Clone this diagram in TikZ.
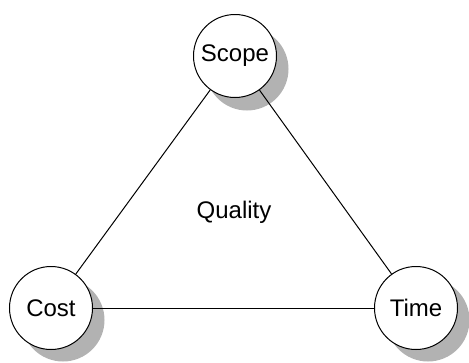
\documentclass[tikz,border=0pt]{standalone}
\usepackage{fontspec}
\setmainfont{Liberation Sans}
\begin{document}
\begin{tikzpicture}[x=1pt,y=-1pt,
  vtx/.style={circle,draw=black,fill=white,line width=1pt,minimum size=83pt,inner sep=0pt,font=\fontsize{24}{28}\selectfont},
  shd/.style={circle,fill=black!30,minimum size=83pt,inner sep=0pt,draw=none},
  edge/.style={draw=black,line width=1pt}]
\useasboundingbox (0,0) rectangle (469,362);
\node[shd] (ss) at (247,69) {};
\node[shd] (cs) at (63,320) {};
\node[shd] (ts) at (428,320) {};
\node[vtx] (scope) at (235,56) {Scope};
\node[vtx] (cost) at (51,308) {Cost};
\node[vtx] (time) at (416,308) {Time};
\draw[edge] (scope) -- (cost);
\draw[edge] (scope) -- (time);
\draw[edge] (cost) -- (time);
\node[font=\fontsize{24}{28}\selectfont] (q) at (234,212) {Quality};
\end{tikzpicture}
\end{document}
